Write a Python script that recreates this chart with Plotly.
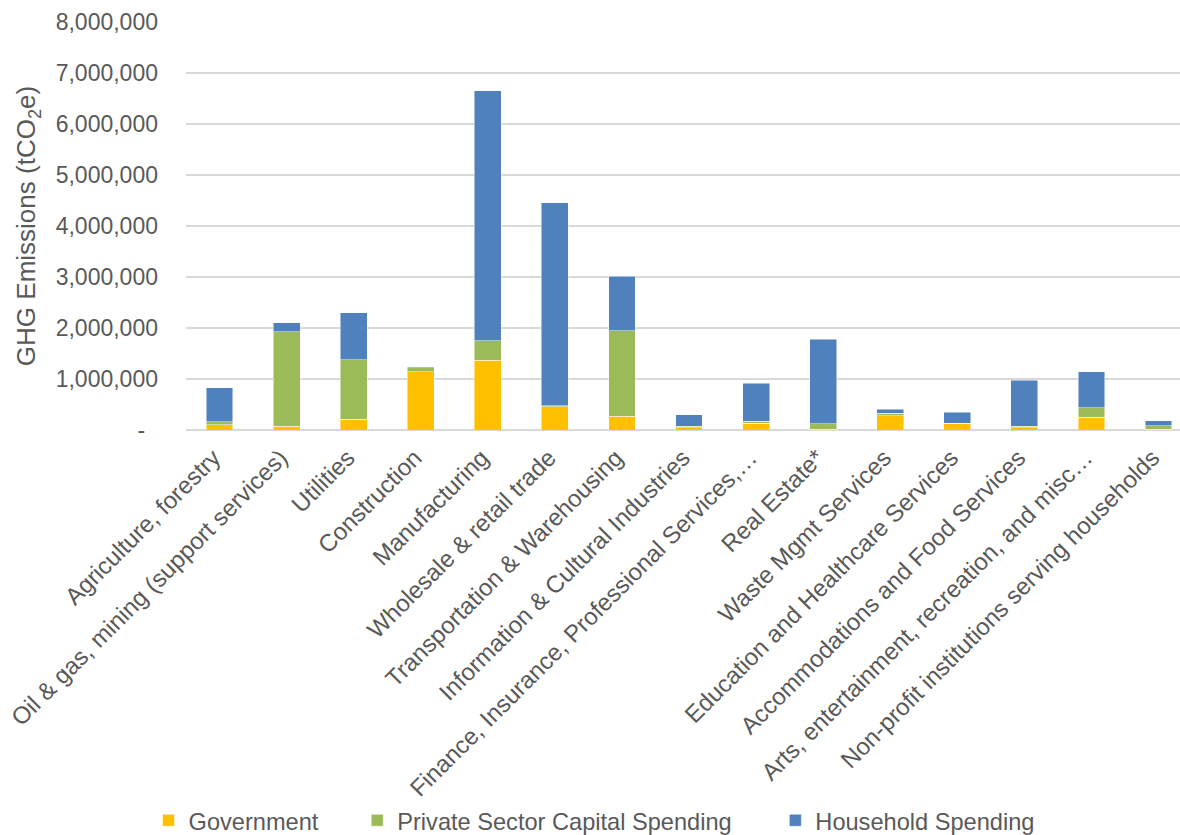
import plotly.graph_objects as go

sectors = [
    "Agriculture, forestry",
    "Oil & gas, mining (support services)",
    "Utilities",
    "Construction",
    "Manufacturing",
    "Wholesale & retail trade",
    "Transportation & Warehousing",
    "Information & Cultural Industries",
    "Finance, Insurance, Professional Services,…",
    "Real Estate*",
    "Waste Mgmt Services",
    "Education and Healthcare Services",
    "Accommodations and Food Services",
    "Arts, entertainment, recreation, and misc…",
    "Non-profit institutions serving households",
]

government = [104000, 69000, 206000, 1140000, 1363000, 455000, 265000, 43000,
              134000, 10000, 284000, 125000, 49000, 251000, 15000]
private_capital = [57000, 1860000, 1170000, 85000, 392000, 25000, 1685000, 26000,
                   33000, 111000, 40000, 5000, 20000, 190000, 67000]
household = [666000, 171000, 924000, 20000, 4900000, 3980000, 1060000, 235000,
             745000, 1659000, 84000, 219000, 902000, 700000, 98000]

y_ticks = [0, 1000000, 2000000, 3000000, 4000000, 5000000, 6000000, 7000000, 8000000]
y_tick_text = ["-\u00a0\u00a0"] + [f"{v:,}" for v in y_ticks[1:]]

# name, values, colour, legend id, legend left position (paper x)
series = [
    ("Government", government, "#FFC000", "legend", -0.0377),
    ("Private Sector Capital Spending", private_capital, "#9BBB59", "legend2", 0.1723),
    ("Household Spending", household, "#4F81BD", "legend3", 0.5929),
]

font_family = "Liberation Sans, Arial, sans-serif"
grey = "#595959"

fig = go.Figure()
legend_layouts = {}
for name, values, color, legend_id, lx in series:
    fig.add_trace(go.Bar(
        name=name,
        x=sectors,
        y=values,
        legend=legend_id,
        marker=dict(color=color, line=dict(color="rgba(255,255,255,0.6)", width=0.8)),
    ))
    legend_layouts[legend_id] = dict(
        orientation="h",
        x=lx, xanchor="left",
        y=-0.957, yanchor="middle",
        font=dict(size=23.6, color=grey, family=font_family),
        itemwidth=30,
        bgcolor="rgba(0,0,0,0)",
    )

fig.update_layout(
    barmode="stack",
    bargap=0.6,
    width=1180,
    height=835,
    margin=dict(l=186, r=0, t=22, b=405, autoexpand=False),
    paper_bgcolor="white",
    plot_bgcolor="white",
    font=dict(family=font_family, color=grey, size=23),
    showlegend=True,
    xaxis=dict(
        range=[-0.5, 14.32],
        tickangle=-45,
        tickfont=dict(size=24, color=grey),
        showgrid=False,
        showline=False,
        ticks="",
        ticklabelstandoff=8,
        ticklabelshift=-6,
        automargin=False,
    ),
    yaxis=dict(
        range=[0, 8000000],
        tickvals=y_ticks,
        ticktext=y_tick_text,
        tickfont=dict(size=23, color=grey),
        showgrid=True,
        gridcolor="#D9D9D9",
        gridwidth=1.5,
        zeroline=True,
        zerolinecolor="#D9D9D9",
        zerolinewidth=1.5,
        ticklabelstandoff=27,
        automargin=False,
        title=dict(
            text="GHG Emissions (tCO<sub>2</sub>e)",
            font=dict(size=26, color=grey),
            standoff=12,
        ),
    ),
    **legend_layouts,
)

fig.write_html("out.html")
